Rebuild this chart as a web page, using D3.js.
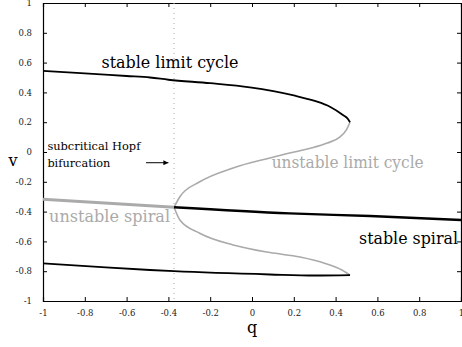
<!DOCTYPE html>
<html>
<head>
<meta charset="utf-8">
<script src="https://cdn.jsdelivr.net/npm/d3@7"></script>
<style>
  body { margin: 0; background: #fff; }
  svg { display: block; }
  svg text { font-family: "DejaVu Serif", "Liberation Serif", serif; }
  .tick text { font-size: 8.5px; fill: #222; }
</style>
</head>
<body>
<svg width="462" height="347"></svg>
<script>
// bifurcation diagram data
const qTicks = [-1, -0.8, -0.6, -0.4, -0.2, 0, 0.2, 0.4, 0.6, 0.8, 1];
const vTicks = [-1, -0.8, -0.6, -0.4, -0.2, 0, 0.2, 0.4, 0.6, 0.8, 1];

const hopfQ = -0.373;

const stableCycleUpperQ = [-1, -0.8, -0.6, -0.488, -0.4, -0.2, -0.01, 0.2, 0.3, 0.373, 0.435, 0.46, 0.469];
const stableCycleUpperV = [0.545, 0.528, 0.51, 0.5, 0.485, 0.462, 0.434, 0.38, 0.343, 0.304, 0.248, 0.22, 0.2];

const unstableCycleUpperQ = [-0.373, -0.345, -0.25, -0.09, 0.086, 0.18, 0.28, 0.36, 0.42, 0.45, 0.469];
const unstableCycleUpperV = [-0.371, -0.3, -0.2, -0.107, -0.04, -0.007, 0.025, 0.06, 0.1, 0.145, 0.2];

const unstableCycleLowerQ = [-0.373, -0.345, -0.25, -0.09, 0.086, 0.23, 0.35, 0.43, 0.469];
const unstableCycleLowerV = [-0.371, -0.456, -0.545, -0.624, -0.675, -0.705, -0.748, -0.792, -0.826];

const stableCycleLowerQ = [-1, -0.7, -0.488, -0.373, 0.086, 0.3, 0.469];
const stableCycleLowerV = [-0.747, -0.775, -0.792, -0.8, -0.822, -0.829, -0.826];

const unstableSpiralQ = [-1, -0.373];
const unstableSpiralV = [-0.317, -0.371];

const stableSpiralQ = [-0.373, 0.18, 0.565, 1];
const stableSpiralV = [-0.371, -0.412, -0.43, -0.456];

const svg = d3.select('svg');
const margin = {left: 43, right: 1, top: 3, bottom: 46};
const width = 462 - margin.left - margin.right;
const height = 347 - margin.top - margin.bottom;

const chart = svg.append('g')
  .attr('transform', `translate(${margin.left}, ${margin.top})`);

const x = d3.scaleLinear().domain([-1, 1]).range([0, width]);
const y = d3.scaleLinear().domain([-1, 1]).range([height, 0]);

const fmt = d => String(+d.toFixed(1));

// axes with inward ticks, mirrored on top and right
chart.append('g')
  .attr('transform', `translate(0, ${height})`)
  .call(d3.axisBottom(x).tickValues(qTicks).tickSize(-4).tickPadding(9).tickFormat(fmt));
chart.append('g')
  .call(d3.axisTop(x).tickValues(qTicks).tickSize(-4).tickFormat(''));
chart.append('g')
  .call(d3.axisLeft(y).tickValues(vTicks).tickSize(-4).tickPadding(11).tickFormat(fmt));
chart.append('g')
  .attr('transform', `translate(${width}, 0)`)
  .call(d3.axisRight(y).tickValues(vTicks).tickSize(-4).tickFormat(''));

chart.selectAll('.domain').attr('stroke', '#000').attr('stroke-width', 1.2);
chart.selectAll('.tick line').attr('stroke', '#000');

// hopf point marker line
chart.append('line')
  .attr('x1', x(hopfQ)).attr('x2', x(hopfQ))
  .attr('y1', 0).attr('y2', height)
  .attr('stroke', '#aaa')
  .attr('stroke-width', 1)
  .attr('stroke-dasharray', '1,4');

const line = d3.line()
  .x(d => x(d[0]))
  .y(d => y(d[1]))
  .curve(d3.curveMonotoneX);

const zip = (a, b) => a.map((q, i) => [q, b[i]]);

const curves = [
  {q: unstableSpiralQ, v: unstableSpiralV, color: '#aaa', w: 3},
  {q: unstableCycleUpperQ, v: unstableCycleUpperV, color: '#aaa', w: 1.6},
  {q: unstableCycleLowerQ, v: unstableCycleLowerV, color: '#aaa', w: 1.6},
  {q: stableCycleUpperQ, v: stableCycleUpperV, color: '#000', w: 1.8},
  {q: stableCycleLowerQ, v: stableCycleLowerV, color: '#000', w: 1.8},
  {q: stableSpiralQ, v: stableSpiralV, color: '#000', w: 2.4}
];

chart.selectAll('.curve')
  .data(curves)
  .enter()
  .append('path')
  .attr('class', 'curve')
  .attr('d', c => line(zip(c.q, c.v)))
  .attr('fill', 'none')
  .attr('stroke', c => c.color)
  .attr('stroke-width', c => c.w);

// annotations
const label = (txt, q, v, len, size, color) => chart.append('text')
  .attr('x', x(q)).attr('y', y(v))
  .attr('font-size', size)
  .attr('fill', color)
  .attr('textLength', len)
  .attr('lengthAdjust', 'spacingAndGlyphs')
  .text(txt);

label('stable limit cycle', -0.72, 0.562, 137, 16, '#000');
label('unstable limit cycle', 0.094, -0.109, 152, 16, '#aaa');
label('unstable spiral', -0.971, -0.468, 121, 17, '#aaa');
label('stable spiral', 0.512, -0.619, 99, 16, '#000');
label('subcritical Hopf', -0.979, 0.013, 93, 11.5, '#000');
label('bifurcation', -0.979, -0.099, 63, 11.5, '#000');

svg.append('defs').append('marker')
  .attr('id', 'arrow')
  .attr('viewBox', '0 0 10 10')
  .attr('refX', 10).attr('refY', 5)
  .attr('markerWidth', 7).attr('markerHeight', 5)
  .attr('orient', 'auto')
  .append('path')
  .attr('d', 'M0,0L10,5L0,10z')
  .attr('fill', '#000');

chart.append('line')
  .attr('x1', x(-0.507)).attr('x2', x(-0.4))
  .attr('y1', y(-0.072)).attr('y2', y(-0.072))
  .attr('stroke', '#000')
  .attr('stroke-width', 1)
  .attr('marker-end', 'url(#arrow)');

// axis titles
svg.append('text')
  .attr('x', 13).attr('y', 166)
  .attr('text-anchor', 'middle')
  .attr('font-size', 16)
  .text('v');

svg.append('text')
  .attr('x', margin.left + x(0)).attr('y', 333)
  .attr('text-anchor', 'middle')
  .attr('font-size', 16)
  .text('q');
</script>
</body>
</html>
